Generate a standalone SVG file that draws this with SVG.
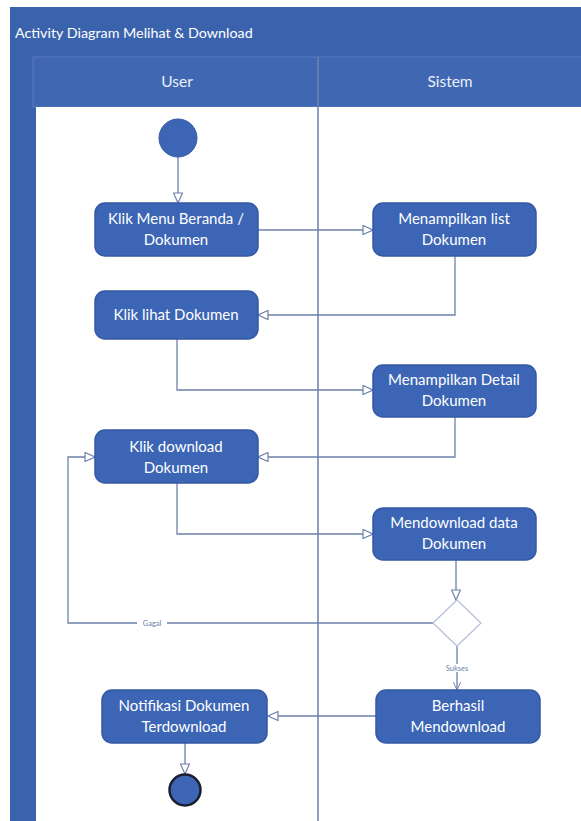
<svg xmlns="http://www.w3.org/2000/svg" width="581" height="821" viewBox="0 0 581 821">
<style>
.frame{fill:#3b63ad}
.hdr{fill:#4068b2;stroke:#5a7cc0;stroke-width:1}
.lane{fill:#ffffff}
.node{fill:#3c65b5;stroke:#3458a3;stroke-width:1.5}
.t{font-family:Lato,"Liberation Sans",sans-serif;font-size:15px;fill:#ffffff;text-anchor:middle}
.ht{font-family:Lato,"Liberation Sans",sans-serif;font-size:15.5px;fill:#e8eefa;text-anchor:middle}
.title{font-family:Lato,"Liberation Sans",sans-serif;font-size:14.3px;fill:#ffffff}
.c{fill:none;stroke:#6e80ab;stroke-width:1.3}
.lbl{font-family:Lato,"Liberation Sans",sans-serif;font-size:7.5px;fill:#6e80ab;text-anchor:middle}
</style>
<defs>
<marker id="tri" viewBox="0 0 10 10" refX="10" refY="5" markerWidth="12" markerHeight="10" orient="auto" markerUnits="userSpaceOnUse">
<path d="M0,0.5 L10,5 L0,9.5 z" fill="#ffffff" stroke="#6e80ab" stroke-width="1.2"/>
</marker>
<marker id="open" viewBox="0 0 10 10" refX="10" refY="5" markerWidth="10" markerHeight="8" orient="auto" markerUnits="userSpaceOnUse">
<path d="M0,0.5 L10,5 L0,9.5" fill="none" stroke="#6e80ab" stroke-width="1.2"/>
</marker>
</defs>
<rect x="0" y="0" width="581" height="821" fill="#ffffff"/>
<g id="frame">
<rect class="frame" x="10" y="7" width="571" height="814"/>
<text class="title" x="15" y="38">Activity Diagram Melihat &amp; Download</text>
<rect class="hdr" x="33" y="57" width="560" height="50"/>
<rect class="lane" x="36" y="107" width="545" height="714"/>
<line x1="318" y1="57" x2="318" y2="821" stroke="#6e80ab" stroke-width="1.5"/>
<text class="ht" x="177" y="87">User</text>
<text class="ht" x="450" y="87">Sistem</text>
</g>
<g id="connectors">
<path class="c" d="M178,157 V203" marker-end="url(#tri)"/>
<path class="c" d="M258,230 H373" marker-end="url(#tri)"/>
<path class="c" d="M455,256 V315 H258" marker-end="url(#tri)"/>
<path class="c" d="M177,339 V390 H373" marker-end="url(#tri)"/>
<path class="c" d="M455,417 V457 H258" marker-end="url(#tri)"/>
<path class="c" d="M177,483 V534 H373" marker-end="url(#tri)"/>
<path class="c" d="M456,560 V600" marker-end="url(#tri)"/>
<path class="c" d="M433,623 H68 V457 H95" marker-end="url(#tri)"/>
<path class="c" d="M457,646 V690" marker-end="url(#open)"/>
<path class="c" d="M376,716 H268" marker-end="url(#tri)"/>
<path class="c" d="M185,743 V774" marker-end="url(#tri)"/>
<rect x="137" y="619" width="30" height="8" fill="#ffffff"/>
<text class="lbl" x="152" y="626">Gagal</text>
<rect x="441" y="664" width="32" height="8" fill="#ffffff"/>
<text class="lbl" x="457" y="671">Sukses</text>
</g>
<g id="start">
<circle cx="178" cy="138" r="19" fill="#3c65b5" stroke="#3458a3" stroke-width="1"/>
</g>
<g id="n1">
<rect class="node" x="95" y="203" width="163" height="53" rx="10"/>
<text class="t" x="176" y="224">Klik Menu Beranda /</text>
<text class="t" x="176" y="245">Dokumen</text>
</g>
<g id="n2">
<rect class="node" x="373" y="203" width="163" height="53" rx="10"/>
<text class="t" x="454" y="224">Menampilkan list</text>
<text class="t" x="454" y="245">Dokumen</text>
</g>
<g id="n3">
<rect class="node" x="95" y="291" width="163" height="48" rx="10"/>
<text class="t" x="176" y="320">Klik lihat Dokumen</text>
</g>
<g id="n4">
<rect class="node" x="373" y="365" width="163" height="52" rx="10"/>
<text class="t" x="454" y="385">Menampilkan Detail</text>
<text class="t" x="454" y="406">Dokumen</text>
</g>
<g id="n5">
<rect class="node" x="95" y="430" width="163" height="53" rx="10"/>
<text class="t" x="176" y="452">Klik download</text>
<text class="t" x="176" y="473">Dokumen</text>
</g>
<g id="n6">
<rect class="node" x="373" y="508" width="163" height="52" rx="10"/>
<text class="t" x="454" y="528">Mendownload data</text>
<text class="t" x="454" y="549">Dokumen</text>
</g>
<g id="decision">
<path d="M457,600 L481,623 L457,646 L433,623 z" fill="#ffffff" stroke="#b8c2d8" stroke-width="1.3"/>
</g>
<g id="n7">
<rect class="node" x="376" y="690" width="164" height="53" rx="10"/>
<text class="t" x="458" y="711">Berhasil</text>
<text class="t" x="458" y="732">Mendownload</text>
</g>
<g id="n8">
<rect class="node" x="102" y="690" width="165" height="53" rx="10"/>
<text class="t" x="184" y="711">Notifikasi Dokumen</text>
<text class="t" x="184" y="732">Terdownload</text>
</g>
<g id="end">
<circle cx="185" cy="790" r="15.5" fill="#3c65b5" stroke="#1a1f2e" stroke-width="2.5"/>
</g>
</svg>
